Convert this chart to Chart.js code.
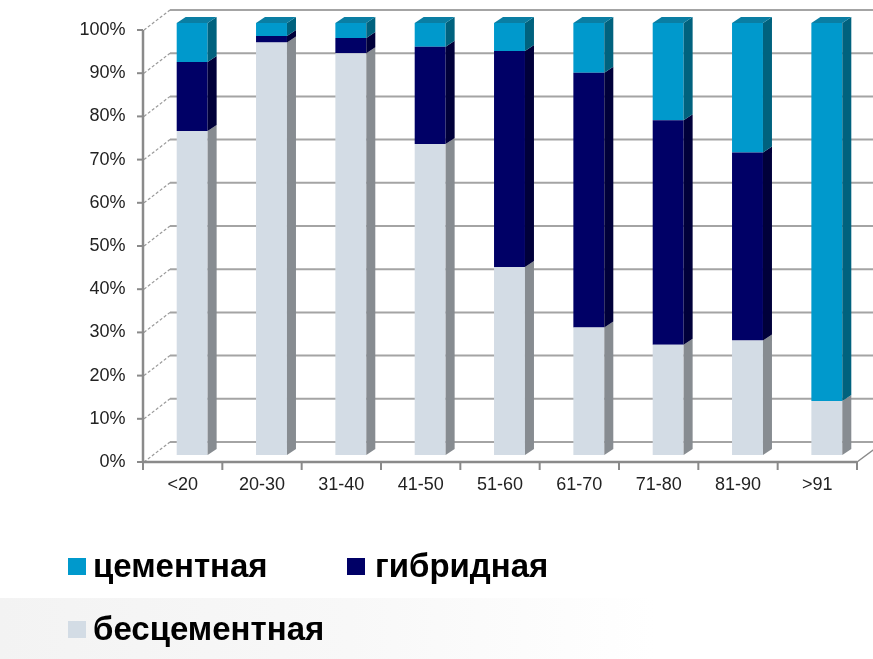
<!DOCTYPE html>
<html lang="ru">
<head>
<meta charset="utf-8">
<script src="https://cdn.jsdelivr.net/npm/chart.js@4.4.1/dist/chart.umd.min.js"></script>
<style>
	html, body { margin: 0; padding: 0; background: #fff; }
	#wrap { position: relative; width: 873px; height: 659px; overflow: hidden; }
	#haze { position: absolute; left: 0; top: 598px; width: 873px; height: 61px;
		background: linear-gradient(to right, #f3f3f3 0%, #f8f8f8 40%, #ffffff 75%); }
	canvas { position: absolute; left: 0; top: 0; }
	.item { position: absolute; font: bold 33px "Liberation Sans", Arial, sans-serif; color: #000;
		white-space: nowrap; line-height: 33px; }
	.box { position: absolute; width: 18px; height: 17px; }
</style>
</head>
<body>
<div id="wrap">
	<div id="haze"></div>
	<canvas id="chart" width="873" height="659"></canvas>
	<div id="legend"></div>
</div>
<script>
//  Age groups on the x axis
const ageGroups = [`<20`, `20-30`, `31-40`, `41-50`, `51-60`, `61-70`, `71-80`, `81-90`, `>91`]
//  Share of each fixation type per age group, %
const cementless = [75, 95.5, 93, 72, 43.5, 29.5, 25.5, 26.5, 12.5]
const hybrid = [16, 1.5, 3.5, 22.5, 50, 59, 52, 43.5, 0]
const cemented = [9, 3, 3.5, 5.5, 6.5, 11.5, 22.5, 30, 87.5]
const seriesNames = [`цементная`, `гибридная`, `бесцементная`]
const yTicks = [0, 10, 20, 30, 40, 50, 60, 70, 80, 90, 100]

//  front / side / top colours of each series
const palette = {
	[`цементная`]: { front: `#0099cc`, side: `#00627e`, top: `#0a7ea3` },
	[`гибридная`]: { front: `#000066`, side: `#00003a`, top: `#000050` },
	[`бесцементная`]: { front: `#d3dce5`, side: `#878c91`, top: `#b8c2cc` }
}

//  depth offsets relative to the plane the bars stand in
const FRONT = { dx: -9.5, dy: 7 }
const BACK = { dx: 17.5, dy: -13 }
const BAR_DEPTH = { dx: 9, dy: -6 }
const GRID = `#a4a4a4`
const AXIS = `#8a8a8a`

const line = (ctx, x1, y1, x2, y2) => {
	ctx.beginPath()
	ctx.moveTo(x1, y1)
	ctx.lineTo(x2, y2)
	ctx.stroke()
}

const poly = (ctx, pts, color) => {
	ctx.beginPath()
	ctx.moveTo(pts[0][0], pts[0][1])
	pts.slice(1).forEach(p => ctx.lineTo(p[0], p[1]))
	ctx.closePath()
	ctx.fillStyle = color
	ctx.fill()
}

//  Back wall, side wall and floor of the 3D box, drawn behind the bars
const walls = {
	id: `walls`,
	beforeDatasetsDraw(chart) {
		const { ctx, chartArea: area, scales: { x, y } } = chart
		const frontX = area.left + FRONT.dx
		const backX = area.left + BACK.dx
		const half = (x.getPixelForValue(1) - x.getPixelForValue(0)) / 2
		const frontRight = x.getPixelForValue(ageGroups.length - 1) + half + FRONT.dx
		ctx.save()

		//  back wall gridlines and left wall diagonals
		yTicks.forEach(v => {
			const py = y.getPixelForValue(v)
			ctx.strokeStyle = GRID
			ctx.lineWidth = 2
			line(ctx, backX, py + BACK.dy, chart.width, py + BACK.dy)
			ctx.lineWidth = 1.2
			ctx.setLineDash([3, 2])
			ctx.strokeStyle = `#9a9a9a`
			line(ctx, frontX + 1, py + FRONT.dy, backX, py + BACK.dy)
			ctx.setLineDash([])
		})

		//  front y axis with tick marks
		const y0 = y.getPixelForValue(0) + FRONT.dy
		const y100 = y.getPixelForValue(100) + FRONT.dy
		ctx.strokeStyle = AXIS
		ctx.lineWidth = 2.5
		line(ctx, frontX, y100, frontX, y0 + 1)
		ctx.lineWidth = 2
		yTicks.forEach(v => line(ctx, frontX - 6, y.getPixelForValue(v) + FRONT.dy, frontX, y.getPixelForValue(v) + FRONT.dy))

		//  floor front edge, category ticks and right floor edge
		ctx.lineWidth = 2.5
		line(ctx, frontX, y0, frontRight, y0)
		ctx.lineWidth = 2
		for (let i = 0; i <= ageGroups.length; i++) {
			const px = x.getPixelForValue(0) - half + i * half * 2 + FRONT.dx
			line(ctx, px, y0, px, y0 + 8)
		}
		ctx.lineWidth = 1.5
		line(ctx, frontRight, y0, frontRight + (BACK.dx - FRONT.dx), y0 + (BACK.dy - FRONT.dy))
		ctx.restore()
	},

	//  side and top faces of every bar segment
	afterDatasetsDraw(chart) {
		const { ctx } = chart
		const { dx, dy } = BAR_DEPTH
		const metas = chart.data.datasets.map((d, i) => chart.getDatasetMeta(i))
		ctx.save()
		ageGroups.forEach((g, i) => {
			let topMost = null
			metas.forEach((meta, di) => {
				const bar = meta.data[i]
				const value = chart.data.datasets[di].data[i]
				if (!value) return
				const colors = palette[chart.data.datasets[di].label]
				const { x, y, base, width } = bar.getProps([`x`, `y`, `base`, `width`], true)
				const r = x + width / 2
				poly(ctx, [[r, y], [r + dx, y + dy], [r + dx, base + dy], [r, base]], colors.side)
				if (!topMost || y < topMost.y) topMost = { x, y, width, colors }
			})
			if (topMost) {
				const l = topMost.x - topMost.width / 2
				const r = topMost.x + topMost.width / 2
				poly(ctx, [[l, topMost.y], [l + dx, topMost.y + dy], [r + dx, topMost.y + dy], [r, topMost.y]], topMost.colors.top)
			}
		})
		ctx.restore()
	}
}

const makeSet = (label, data) => ({
	label,
	data,
	backgroundColor: palette[label].front,
	borderWidth: 0,
	categoryPercentage: 1,
	barPercentage: 0.39
})

const tickFont = { family: `"Liberation Sans", Arial, sans-serif`, size: 18 }

const chart = new Chart(document.getElementById(`chart`), {
	type: `bar`,
	data: {
		labels: ageGroups,
		datasets: [
			makeSet(`бесцементная`, cementless),
			makeSet(`гибридная`, hybrid),
			makeSet(`цементная`, cemented)
		]
	},
	options: {
		responsive: false,
		animation: false,
		layout: { padding: { top: 23, right: 6.5, bottom: 0, left: 0 } },
		plugins: { legend: { display: false }, tooltip: { enabled: false } },
		scales: {
			x: {
				stacked: true,
				grid: { display: false, drawTicks: false },
				border: { display: false },
				ticks: { font: tickFont, color: `#222`, padding: 19, labelOffset: FRONT.dx, maxRotation: 0 },
				afterFit: axis => { axis.height = 659 - 455 }
			},
			y: {
				stacked: true,
				min: 0,
				max: 100,
				//  the tick length (not drawn) keeps the labels clear of the front axis
				grid: { display: false, drawTicks: true, tickLength: 27 },
				border: { display: false },
				ticks: {
					font: tickFont,
					color: `#222`,
					padding: 0,
					labelOffset: FRONT.dy,
					stepSize: 10,
					callback: v => `${v}%`
				},
				afterFit: axis => { axis.width = 152.5 }
			}
		}
	},
	plugins: [walls]
})

//  Legend: two entries on the first row, one on the second (top = baseline - 28)
const legendSpots = {
	[`цементная`]: { box: [68, 558], text: [93, 549] },
	[`гибридная`]: { box: [347, 558], text: [375, 549] },
	[`бесцементная`]: { box: [68, 621], text: [93, 612] }
}
const legend = document.getElementById(`legend`)
seriesNames.forEach(name => {
	const spot = legendSpots[name]
	const box = document.createElement(`div`)
	box.className = `box`
	box.style.left = `${spot.box[0]}px`
	box.style.top = `${spot.box[1]}px`
	box.style.background = palette[name].front
	const text = document.createElement(`div`)
	text.className = `item`
	text.textContent = name
	text.style.left = `${spot.text[0]}px`
	text.style.top = `${spot.text[1]}px`
	legend.appendChild(box)
	legend.appendChild(text)
})
</script>
</body>
</html>
